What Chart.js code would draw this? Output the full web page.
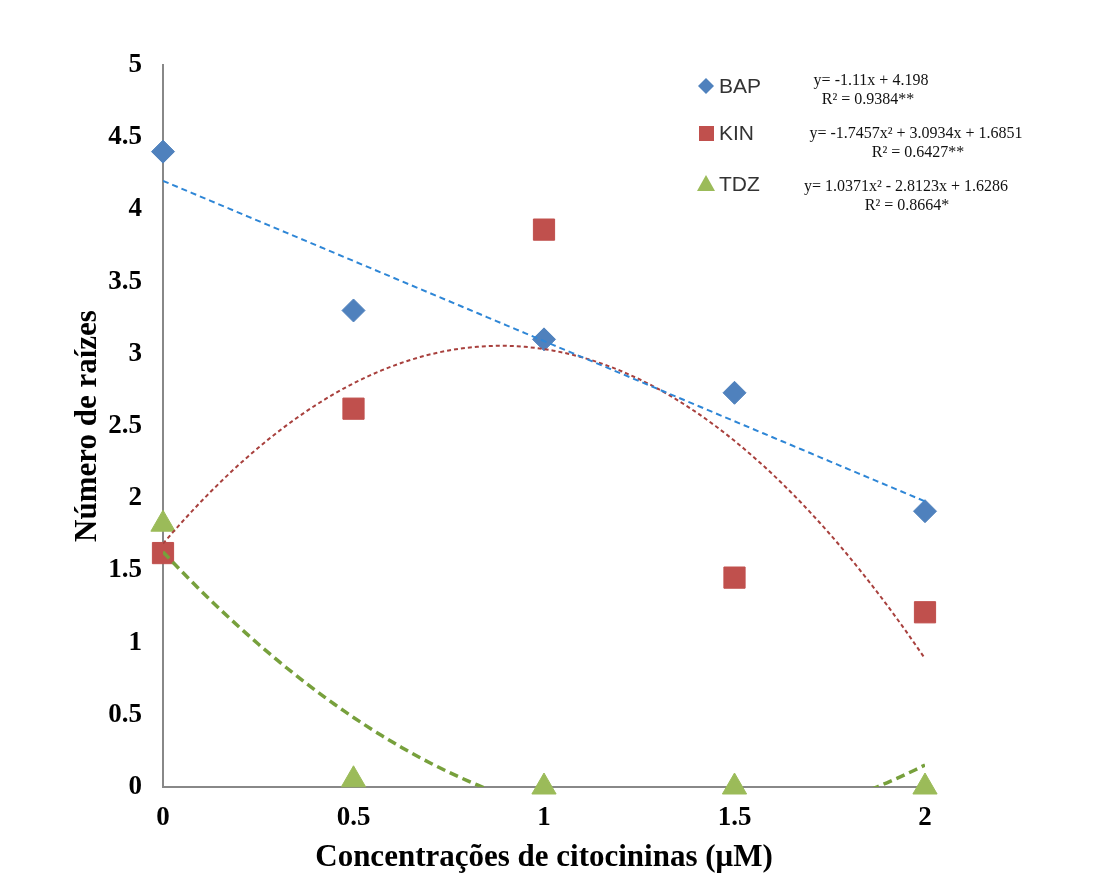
<!DOCTYPE html>
<html>
<head>
<meta charset="utf-8">
<script src="https://cdn.jsdelivr.net/npm/chart.js@4/dist/chart.umd.min.js"></script>
<style>
  body { margin: 0; background: #fff; }
  #grafico { display: block; }
</style>
</head>
<body>
<canvas id="grafico" width="1110" height="881"></canvas>
<script>
// datos
const concentraciones = [0, 0.5, 1, 1.5, 2];
const bap = [4.40, 3.30, 3.10, 2.73, 1.91];
const kin = [1.62, 2.62, 3.86, 1.45, 1.21];
const tdz = [1.82, 0.05, 0, 0, 0];
const yTicks = [0, 0.5, 1, 1.5, 2, 2.5, 3, 3.5, 4, 4.5, 5];

// coeficientes de las lineas de tendencia (a, b, c) -> a*x^2 + b*x + c
const coefBap = [0, -1.11, 4.198];
const coefKin = [-1.7457, 3.0934, 1.6851];
const coefTdz = [1.0371, -2.8123, 1.6286];

const ecuaciones = [
  { nombre: "BAP", eq: "y= -1.11x + 4.198", r2: "R² = 0.9384**" },
  { nombre: "KIN", eq: "y= -1.7457x² + 3.0934x + 1.6851", r2: "R² = 0.6427**" },
  { nombre: "TDZ", eq: "y= 1.0371x² - 2.8123x + 1.6286", r2: "R² = 0.8664*" }
];

const azul = "#4F81BD", rojo = "#C0504D", verde = "#9BBB59";

function puntos(valores) {
  return concentraciones.map((x, i) => ({ x: x, y: valores[i] }));
}
function tendencia(coef) {
  let pts = [];
  for (let i = 0; i <= 80; i++) {
    const x = i / 40;
    pts.push({ x: x, y: coef[0] * x * x + coef[1] * x + coef[2] });
  }
  return pts;
}

// leyenda y ecuaciones dibujadas a mano dentro del area
const leyenda = {
  id: "leyenda",
  afterDraw(chart) {
    const ctx = chart.ctx;
    const marcas = [
      { y: 86, color: azul, forma: "rombo" },
      { y: 133, color: rojo, forma: "cuadro" },
      { y: 184, color: verde, forma: "triangulo" }
    ];
    const posEq = [
      { x: 871, y: 81, rx: 868, ry: 100 },
      { x: 916, y: 134, rx: 918, ry: 153 },
      { x: 906, y: 187, rx: 907, ry: 206 }
    ];
    ctx.save();
    marcas.forEach((m, i) => {
      ctx.fillStyle = m.color;
      ctx.beginPath();
      if (m.forma === "rombo") {
        ctx.moveTo(706, m.y - 8); ctx.lineTo(714, m.y); ctx.lineTo(706, m.y + 8); ctx.lineTo(698, m.y);
      } else if (m.forma === "cuadro") {
        ctx.rect(699, m.y - 7, 15, 15);
      } else {
        ctx.moveTo(706, m.y - 9); ctx.lineTo(715, m.y + 7); ctx.lineTo(697, m.y + 7);
      }
      ctx.closePath();
      ctx.fill();
      ctx.fillStyle = "#333";
      ctx.font = "21px 'Liberation Sans', Arial, sans-serif";
      ctx.textAlign = "left";
      ctx.textBaseline = "middle";
      ctx.fillText(ecuaciones[i].nombre, 719, m.y + 1);
      ctx.fillStyle = "#111";
      ctx.font = "16px 'Liberation Serif', 'Times New Roman', serif";
      ctx.textAlign = "center";
      ctx.fillText(ecuaciones[i].eq, posEq[i].x, posEq[i].y);
      ctx.fillText(ecuaciones[i].r2, posEq[i].rx, posEq[i].ry);
    });
    ctx.restore();
  }
};

const fuenteTicks = { family: "'Liberation Serif', 'Times New Roman', serif", size: 27, weight: "bold" };
const fuenteTitulo = { family: "'Liberation Serif', 'Times New Roman', serif", size: 31, weight: "bold" };

const config = {
  type: "scatter",
  data: {
    datasets: [
      { label: "BAP tendencia", type: "line", data: tendencia(coefBap), borderColor: "#2E86D6", borderWidth: 2, borderDash: [6, 4], pointRadius: 0, fill: false, tension: 0 },
      { label: "KIN tendencia", type: "line", data: tendencia(coefKin), borderColor: "#A8403D", borderWidth: 2, borderDash: [4, 3], pointRadius: 0, fill: false, tension: 0 },
      { label: "TDZ tendencia", type: "line", data: tendencia(coefTdz), borderColor: "#77A03C", borderWidth: 3.5, borderDash: [9, 5], pointRadius: 0, fill: false, tension: 0, clip: 0 },
      { label: "BAP", data: puntos(bap), pointStyle: "rectRot", pointRadius: 11.5, backgroundColor: azul, borderColor: azul, clip: false },
      { label: "KIN", data: puntos(kin), pointStyle: "rect", pointRadius: 15, backgroundColor: rojo, borderColor: rojo, clip: false },
      { label: "TDZ", data: puntos(tdz), pointStyle: "triangle", pointRadius: 14, backgroundColor: verde, borderColor: verde, clip: false }
    ]
  },
  options: {
    responsive: false,
    animation: false,
    layout: { padding: { top: 65, right: 185, left: 0, bottom: 0 } },
    plugins: { legend: { display: false }, tooltip: { enabled: false } },
    scales: {
      x: {
        type: "linear",
        min: 0, max: 2,
        afterBuildTicks(axis) { axis.ticks = concentraciones.map(v => ({ value: v })); },
        afterFit(axis) { axis.height = 94; },
        grid: { display: false, drawTicks: false },
        border: { color: "#888", width: 2 },
        ticks: { color: "#000", font: fuenteTicks, padding: 15, callback: v => String(v) },
        title: { display: true, text: "Concentrações de citocininas (μM)", color: "#000", font: fuenteTitulo, padding: { top: 4 } }
      },
      y: {
        type: "linear",
        min: 0, max: 5,
        afterBuildTicks(axis) { axis.ticks = yTicks.map(v => ({ value: v })); },
        afterFit(axis) { axis.width = 163; },
        grid: { display: false, drawTicks: false },
        border: { color: "#888", width: 2 },
        ticks: { color: "#000", font: fuenteTicks, padding: 21, callback: v => String(v) },
        title: { display: true, text: "Número de raízes", color: "#000", font: fuenteTitulo, padding: { top: 69, bottom: 0 } }
      }
    }
  },
  plugins: [leyenda]
};

new Chart(document.querySelector("#grafico"), config);
</script>
</body>
</html>
